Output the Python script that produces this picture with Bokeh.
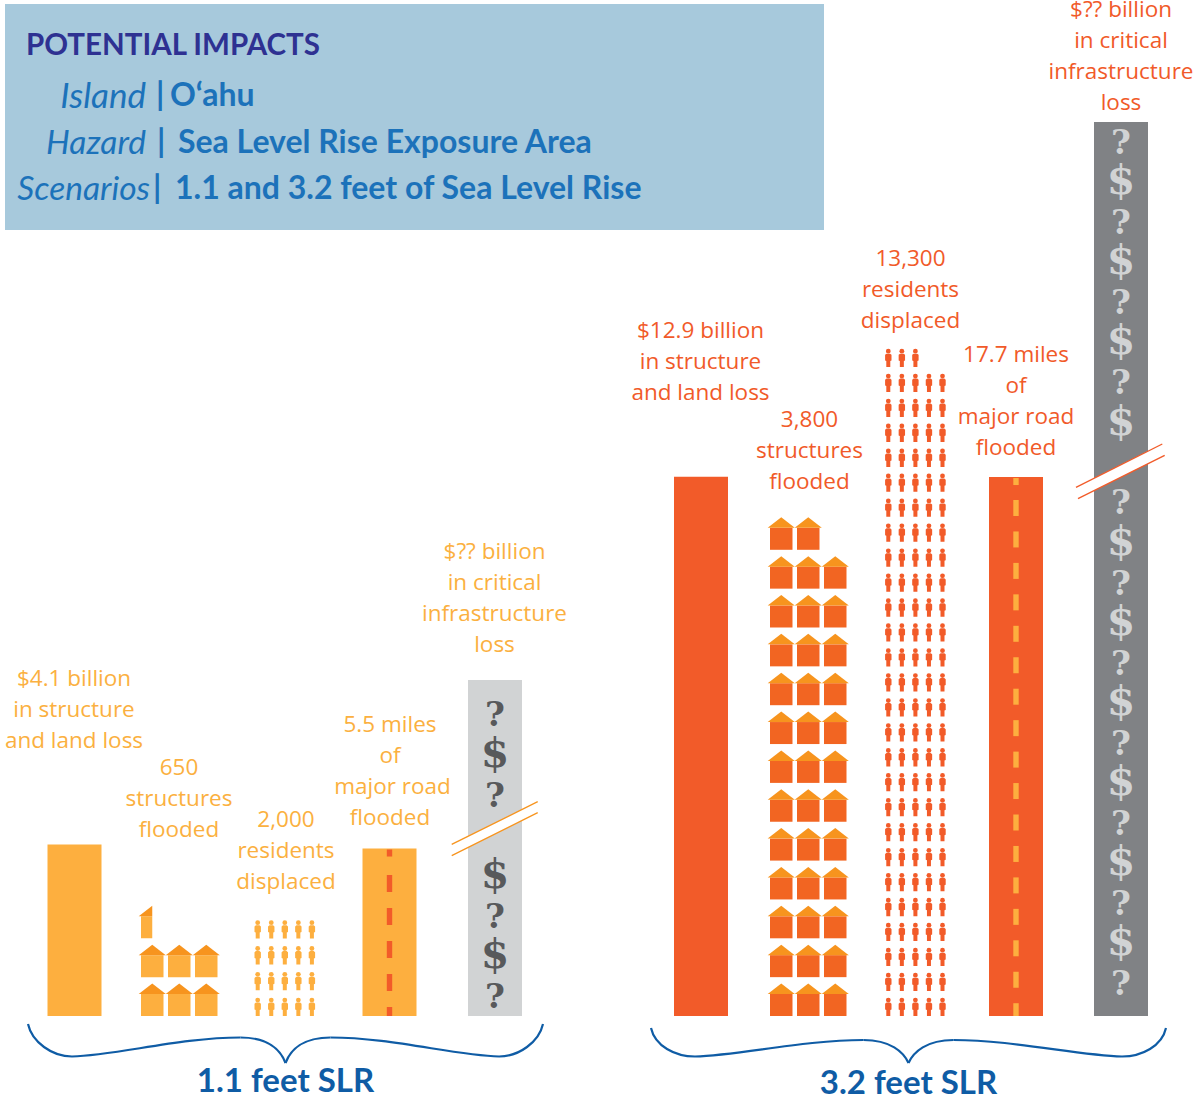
from bokeh.plotting import figure
from bokeh.models import Range1d
from bokeh.core.properties import value
from bokeh.embed import file_html
from bokeh.resources import INLINE

# ---- data ----
SCENARIOS = ["1.1 feet SLR", "3.2 feet SLR"]
LOSS_BILLION = [4.1, 12.9]
STRUCTURES = [650, 3800]
RESIDENTS = [2000, 13300]
ROAD_MILES = [5.5, 17.7]
LABELS_LOSS = [["$4.1 billion", "in structure", "and land loss"],
               ["$12.9 billion", "in structure", "and land loss"]]
LABELS_STRUCT = [["650", "structures", "flooded"], ["3,800", "structures", "flooded"]]
LABELS_RES = [["2,000", "residents", "displaced"], ["13,300", "residents", "displaced"]]
LABELS_ROAD = [["5.5 miles", "of", "major road", "flooded"], ["17.7 miles", "of", "major road", "flooded"]]
LABELS_INFRA = ["$?? billion", "in critical", "infrastructure", "loss"]
UNITS_PER_ICON = 100

# ---- layout / style (reference pixels) ----
W, H = 1200, 1099
OFF = 0.5
BASE = 1016
PX_PER_BILLION = 41.8
PX_PER_MILE = 30.45
X_LOSS = [47.5, 674]
X_HOUSE = [141, 770]
X_PEOPLE = [257.7, 888.3]
X_ROAD = [362.5, 989]
X_INFRA = [468, 1094]
BAR_W = 54
TOP_INFRA = [680, 122]
LIGHT, DARK, ROOF = "#FDAF3F", "#F25B29", "#F7941E"
HOUSE_BODY = ["#FDAF3F", "#F26522"]
BAR_COL = [LIGHT, DARK]
LBL_COL = ["#FBB040", "#F15A29"]
DASH_COL = [DARK, LIGHT]
INFRA_COL = ["#D1D3D4", "#808285"]
GLYPH_COL = ["#58595B", "#D1D3D4"]
FONT = "Open Sans"
HEAD = "Lato"

p = figure(width=W, height=H, x_range=Range1d(OFF, W + OFF), y_range=Range1d(H + OFF, OFF),
           output_backend="svg", toolbar_location=None, min_border=0,
           outline_line_color=None, background_fill_color="white")
p.axis.visible = False
p.grid.visible = False
p.extra_y_ranges = {
    "loss": Range1d(-(H + OFF - BASE) / PX_PER_BILLION, (BASE - OFF) / PX_PER_BILLION),
    "road": Range1d(-(H + OFF - BASE) / PX_PER_MILE, (BASE - OFF) / PX_PER_MILE),
}


def txt(x, y, s, color, size, align="center", style="normal", font=FONT):
    p.text([x], [y], text=[s], text_color=color, text_font_size=f"{size}px",
           text_align=align, text_baseline="middle", text_font_style=style,
           text_font=value(font))


def block(x, y0, lines, color, pitch=31, size=22.5, xs=None):
    for i, s in enumerate(lines):
        txt(xs[i] if xs else x, y0 - 0.5 + i * pitch, s, color, size)


# header box
p.quad(left=[5], right=[824], top=[4], bottom=[230], fill_color="#A7C9DC", line_color=None)
BLUE = "#1C72BA"
txt(26, 43.5, "POTENTIAL IMPACTS", "#2E3192", 29.5, "left", "bold", HEAD)
txt(146, 93.5, "Island", BLUE, 35, "right", "italic", HEAD)
txt(156, 93.5, "|", BLUE, 32, "left", "bold", HEAD)
txt(170, 93.5, "O\u2018ahu", BLUE, 32, "left", "bold", HEAD)
txt(146, 140.5, "Hazard", BLUE, 33.5, "right", "italic", HEAD)
txt(157, 140.5, "|", BLUE, 32, "left", "bold", HEAD)
txt(178, 140.5, "Sea Level Rise Exposure Area", BLUE, 32, "left", "bold", HEAD)
txt(150, 186.5, "Scenarios", BLUE, 33.5, "right", "italic", HEAD)
txt(153, 186.5, "|", BLUE, 32, "left", "bold", HEAD)
txt(175, 186.5, "1.1 and 3.2 feet of Sea Level Rise", BLUE, 32, "left", "bold", HEAD)

HOUSE_PITCH_X, HOUSE_PITCH_Y = 27, 38.85
HOUSE_W, WALL_H, ROOF_H = 22.5, 22, 10.5
PERSON_PITCH_X = 13.55
PERSON_PITCH_Y = [25.8, 24.96]
PERSON_H = 18


def houses(g):
    n = STRUCTURES[g] / UNITS_PER_ICON
    wl, wr, wt, wb, rx, ry = [], [], [], [], [], []
    i = 0
    while i < n:
        frac = min(1.0, n - i)
        row, col = i // 3, i % 3
        left = X_HOUSE[g] + col * HOUSE_PITCH_X
        bot = BASE - row * HOUSE_PITCH_Y
        wl.append(left); wr.append(left + HOUSE_W * frac)
        wb.append(bot); wt.append(bot - WALL_H)
        eave = bot - WALL_H
        if frac >= 1:
            rx.append([left - 2.3, left + HOUSE_W / 2, left + HOUSE_W + 2.3])
            ry.append([eave, eave - ROOF_H, eave])
        else:
            rx.append([left - 2.3, left + HOUSE_W / 2, left + HOUSE_W / 2])
            ry.append([eave, eave - ROOF_H, eave])
        i += 1
    p.quad(left=wl, right=wr, top=wt, bottom=wb, fill_color=HOUSE_BODY[g], line_color=None)
    p.patches(rx, ry, fill_color=ROOF, line_color=None)


def people(g):
    n = int(RESIDENTS[g] / UNITS_PER_ICON)
    px, py, hx, hy = [], [], [], []
    shape_x = [-1.8, 1.8, 3.2, 3.2, 2.0, 2.0, -2.0, -2.0, -3.2, -3.2]
    shape_y = [4.6, 4.6, 5.8, 11.5, 12.0, 18, 18, 12.0, 11.5, 5.8]
    for i in range(n):
        row, col = i // 5, i % 5
        cx = X_PEOPLE[g] + col * PERSON_PITCH_X
        top = BASE - PERSON_H - row * PERSON_PITCH_Y[g]
        px.append([cx + d for d in shape_x])
        py.append([top + d for d in shape_y])
        hx.append(cx); hy.append(top + 2.1)
    p.patches(px, py, fill_color=BAR_COL[g], line_color=None)
    p.scatter(hx, hy, size=4.8, marker="circle", fill_color=BAR_COL[g], line_color=None)


ROAD_DASH = [(875, 33, 17), (500, 31.45, 16)]
ROAD_FIRST = [8, 8]
BREAK = [
    [(451.7, 844.3), (537.7, 801.7), (451.7, 855.7), (537.7, 812.7)],
    [(1076, 487.3), (1162.3, 444), (1078, 498.7), (1164.7, 455.3)],
]
QY = [[714, 795, 916, 996], [142, 222, 302, 382, 502, 583, 663, 743, 823, 903, 983]]
DY = [[753, 874, 954], [180, 260, 340, 421, 541, 621, 701, 781, 861, 941]]

for g in range(2):
    # loss bar
    p.vbar(x=[X_LOSS[g] + BAR_W / 2], top=[LOSS_BILLION[g]], bottom=[0], width=BAR_W,
           fill_color=BAR_COL[g], line_color=None, y_range_name="loss")
    houses(g)
    people(g)
    # road bar
    rc = X_ROAD[g] + BAR_W / 2
    p.vbar(x=[rc], top=[ROAD_MILES[g]], bottom=[0], width=BAR_W,
           fill_color=BAR_COL[g], line_color=None, y_range_name="road")
    top_road = BASE - ROAD_MILES[g] * PX_PER_MILE
    start, pitch, dash = ROAD_DASH[g]
    dt, db = [top_road + 1], [top_road + ROAD_FIRST[g]]
    y = start
    while y < BASE:
        dt.append(y); db.append(min(BASE, y + dash))
        y += pitch
    p.quad(left=[rc - 2.7] * len(dt), right=[rc + 2.7] * len(dt), top=dt, bottom=db,
           fill_color=DASH_COL[g], line_color=None)
    # infrastructure bar
    ic = X_INFRA[g] + BAR_W / 2
    p.quad(left=[X_INFRA[g]], right=[X_INFRA[g] + BAR_W], top=[TOP_INFRA[g]], bottom=[BASE],
           fill_color=INFRA_COL[g], line_color=None)
    for y in QY[g]:
        txt(ic, y, "?", GLYPH_COL[g], 34, "center", "bold", "DejaVu Serif")
    for y in DY[g]:
        txt(ic, y, "$", GLYPH_COL[g], 41, "center", "bold", "DejaVu Serif")
    a, b, c, d = BREAK[g]
    p.patch([a[0], b[0], d[0], c[0]], [a[1], b[1], d[1], c[1]], fill_color="white", line_color=None)
    p.line([a[0], b[0]], [a[1], b[1]], line_color=BAR_COL[g] if g else ROOF, line_width=1.3)
    p.line([c[0], d[0]], [c[1], d[1]], line_color=BAR_COL[g] if g else ROOF, line_width=1.3)

# labels
block(74, 678, LABELS_LOSS[0], LBL_COL[0])
block(179, 767, LABELS_STRUCT[0], LBL_COL[0])
block(286, 819, LABELS_RES[0], LBL_COL[0])
block(390, 724, LABELS_ROAD[0], LBL_COL[0], xs=[390, 390, 392.5, 390])
block(494.5, 551, LABELS_INFRA, LBL_COL[0])
block(700.5, 330, LABELS_LOSS[1], LBL_COL[1])
block(809.5, 419, LABELS_STRUCT[1], LBL_COL[1])
block(910.5, 258, LABELS_RES[1], LBL_COL[1])
block(1016, 354, LABELS_ROAD[1], LBL_COL[1])
block(1121, 9, LABELS_INFRA, LBL_COL[1])

# braces
SLR_BLUE = "#0F5CA5"
for cx, half, tip, low, high, point, ly, label in [
    (285.5, 257.5, 1024, 1056.5, 1037.5, 1063, 1078.5, SCENARIOS[0]),
    (908.5, 257.5, 1028, 1056.5, 1040, 1063, 1080.5, SCENARIOS[1]),
]:
    for s in (-1, 1):
        p.bezier(x0=[cx + s * half], y0=[tip], x1=[cx + s * (half - 44)], y1=[low],
                 cx0=[cx + s * (half - 4)], cy0=[tip + 18], cx1=[cx + s * (half - 24)], cy1=[low],
                 line_color=SLR_BLUE, line_width=2.2)
        p.bezier(x0=[cx + s * (half - 44)], y0=[low], x1=[cx + s * 45], y1=[high],
                 cx0=[cx + s * 170], cy0=[low - 1], cx1=[cx + s * 105], cy1=[high],
                 line_color=SLR_BLUE, line_width=2.2)
        p.bezier(x0=[cx + s * 45], y0=[high], x1=[cx], y1=[point],
                 cx0=[cx + s * 18], cy0=[high], cx1=[cx + s * 5], cy1=[high + 12],
                 line_color=SLR_BLUE, line_width=2.2)
    txt(cx, ly, label, SLR_BLUE, 33, "center", "bold", HEAD)

open("out.html", "w").write(file_html(p, INLINE))
